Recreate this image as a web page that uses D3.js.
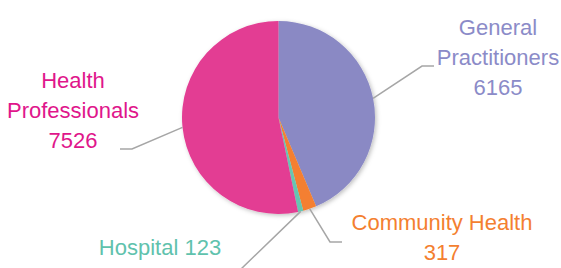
<!DOCTYPE html>
<html>
<head>
<meta charset="utf-8">
<script src="https://cdn.jsdelivr.net/npm/d3@7"></script>
<style>
  body { margin: 0; background: #fff; }
  text { font-family: "Liberation Sans", Arial, sans-serif; }
</style>
</head>
<body>
<div id="chart"></div>
<script>
// data
var categories = ["General Practitioners", "Community Health", "Hospital", "Health Professionals"];
var values = [6165, 317, 123, 7526];
var labelLines = [["General", "Practitioners", "6165"], ["Community Health", "317"], ["Hospital 123"], ["Health", "Professionals", "7526"]];

var colors = ["#8a89c4", "#f47f30", "#66c5b1", "#e33c93"];
var textColors = ["#8b8bc8", "#f47f30", "#5fc2ad", "#e0168b"];

var svgWidth = 561;
var svgHeight = 268;
var cx = 278.5, cy = 117.5, radius = 96.5;

// label layout: text anchor point (x, first baseline) and leader elbow
var labelPos = [
  {x: 498, y: 35, elbow: [422, 66], end: [434, 66]},
  {x: 442, y: 230, elbow: [330, 242], end: [342, 242]},
  {x: 160, y: 255, elbow: [240, 270], end: [228, 270]},
  {x: 73, y: 88, elbow: [132, 149], end: [120, 149]}
];

var svg = d3.select("#chart")
  .append("svg")
  .attr("width", svgWidth)
  .attr("height", svgHeight);

var defs = svg.append("defs");
var filt = defs.append("filter").attr("id", "shadow")
  .attr("x", "-20%").attr("y", "-20%").attr("width", "140%").attr("height", "140%");
filt.append("feDropShadow")
  .attr("dx", 1.5).attr("dy", 1.5)
  .attr("stdDeviation", 2)
  .attr("flood-color", "#000")
  .attr("flood-opacity", 0.25);

var data = categories.map(function(c, i) { return {name: c, value: values[i], i: i}; });

var pie = d3.pie().sort(null).value(d => d.value);
var arcs = pie(data);

var arc = d3.arc().innerRadius(0).outerRadius(radius);

var chartGroup = svg.append("g")
  .attr("transform", `translate(${cx}, ${cy})`);

// leader lines
var lineGroup = svg.append("g");
arcs.forEach(function(a, i) {
  var mid = (a.startAngle + a.endAngle) / 2;
  var sx = cx + radius * Math.sin(mid);
  var sy = cy - radius * Math.cos(mid);
  var p = labelPos[i];
  lineGroup.append("polyline")
    .attr("points", [[sx, sy], p.elbow, p.end].map(q => q.join(",")).join(" "))
    .attr("fill", "none")
    .attr("stroke", "#a6a6a6")
    .attr("stroke-width", 1.5);
});

var pieGroup = chartGroup.append("g").attr("filter", "url(#shadow)");
pieGroup.selectAll("path")
  .data(arcs)
  .enter()
  .append("path")
  .attr("d", arc)
  .attr("fill", d => colors[d.data.i]);

// labels
var labelGroup = svg.append("g");
labelLines.forEach(function(lines, i) {
  var p = labelPos[i];
  var t = labelGroup.append("text")
    .attr("text-anchor", "middle")
    .attr("font-size", 22)
    .attr("fill", textColors[i]);
  lines.forEach(function(l, j) {
    t.append("tspan")
      .attr("x", p.x)
      .attr("y", p.y + j * 29.8)
      .text(l);
  });
});
</script>
</body>
</html>
